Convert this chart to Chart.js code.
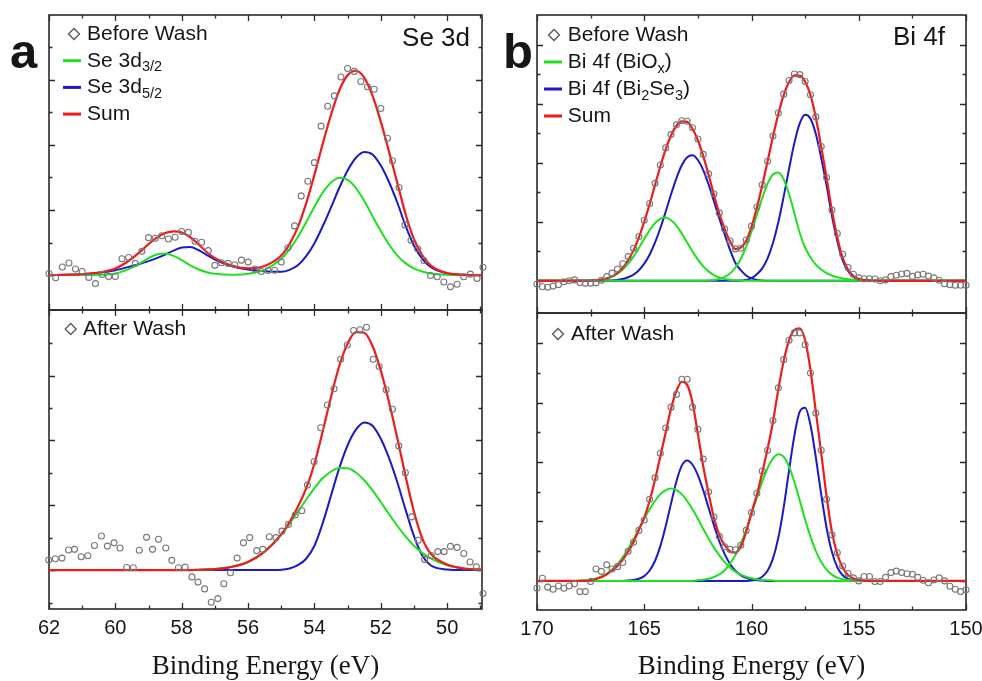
<!DOCTYPE html>
<html>
<head>
<meta charset="utf-8">
<script src="https://cdn.jsdelivr.net/npm/chart.js@4.4.1/dist/chart.umd.min.js"></script>
<style>
  body { margin: 0; background: #fff; width: 982px; height: 681px; position: relative; overflow: hidden; }
  canvas { position: absolute; }
</style>
</head>
<body>
<canvas id="seBefore" width="494" height="320" style="left:0;top:0"></canvas>
<canvas id="seAfter" width="494" height="381" style="left:0;top:300px"></canvas>
<canvas id="biBefore" width="490" height="323" style="left:490px;top:0"></canvas>
<canvas id="biAfter" width="502" height="378" style="left:490px;top:303px"></canvas>
<script>
// ---- Se 3d (panel a) ----
var aTopE = [62.2, 62.0, 61.8, 61.6, 61.4, 61.2, 61.0, 60.8, 60.6, 60.4, 60.2, 60.0, 59.8, 59.6, 59.4, 59.2, 59.0, 58.8, 58.6, 58.4,
  58.2, 58.0, 57.8, 57.6, 57.4, 57.2, 57.0, 56.8, 56.6, 56.4, 56.2, 56.0, 55.8, 55.6, 55.4, 55.2, 55.0,
  54.8, 54.6, 54.4, 54.2, 54.0, 53.8, 53.6, 53.4, 53.2, 53.0, 52.8, 52.6, 52.4, 52.2, 52.0,
  51.8, 51.65, 51.45, 51.27, 51.09, 50.89, 50.7, 50.5, 50.3, 50.1, 49.9, 49.7, 49.5, 49.3, 49.1, 48.92];
var aTopCounts = [0.08, 0.05, -0.08, 0.25, 0.37, 0.19, 0.11, -0.07, -0.26, 0.02, -0.04, -0.04, 0.50, 0.54, 0.36, 0.73, 1.15, 1.13, 1.21, 1.11,
  1.16, 1.34, 1.31, 1.04, 1.01, 0.75, 0.30, 0.38, 0.36, 0.32, 0.46, 0.40, 0.19, 0.11, 0.14, 0.15, 0.40,
  0.84, 1.51, 2.43, 2.88, 3.45, 4.57, 5.18, 5.50, 6.08, 6.34, 6.25, 5.94, 5.78, 5.70, 5.11,
  4.20, 3.51, 2.69, 1.54, 1.07, 0.81, 0.45, -0.01, -0.05, -0.21, -0.36, -0.28, -0.05, 0.03, -0.10, 0.24];

var aBotE = [62.19, 62.01, 61.81, 61.61, 61.41, 61.23, 61.03, 60.83, 60.63, 60.42, 60.24, 60.04, 59.86, 59.66, 59.46, 59.28, 59.06, 58.88, 58.70, 58.48,
  58.30, 58.10, 57.90, 57.69, 57.51, 57.31, 57.11, 56.91, 56.73, 56.53, 56.33, 56.14, 55.95, 55.74, 55.56, 55.36, 55.16, 54.98, 54.78, 54.58,
  54.38, 54.21, 54.01, 53.81, 53.61, 53.41, 53.21, 53.01, 52.82, 52.63, 52.43, 52.23, 52.05, 51.84, 51.65, 51.46, 51.26, 51.07, 50.87, 50.68,
  50.48, 50.28, 50.09, 49.90, 49.70, 49.50, 49.31, 49.12, 48.92];
var aBotCounts = [-0.06, 0.31, 0.35, 0.37, 0.62, 0.64, 0.41, 0.44, 0.76, 1.05, 0.74, 0.84, 0.68, 0.08, 0.07, 0.61, 1.01, 0.64, 0.95, 0.68,
  0.30, 0.07, 0.09, -0.21, -0.37, -0.58, -0.99, -0.88, -0.42, -0.08, 0.37, 0.84, 1.00, 0.60, 0.64, 1.03, 1.00, 1.20, 1.41, 1.70,
  1.83, 2.62, 3.34, 4.39, 5.09, 5.59, 6.50, 6.94, 7.39, 7.41, 7.49, 6.50, 6.28, 5.56, 4.96, 3.83, 3.00, 1.64, 0.92, 0.33,
  0.45, 0.57, 0.57, 0.73, 0.70, 0.51, 0.25, 0.10, -0.72];

var aFitE = [62, 61.5, 61, 60.5, 60, 59.5, 59.25, 59, 58.75, 58.5, 58.25, 58, 57.75, 57.5, 57.25, 57, 56.5, 56, 55.5, 55,
  54.75, 54.5, 54.25, 54, 53.75, 53.5, 53.25, 53, 52.75, 52.5, 52.25, 52, 51.75, 51.5, 51.25, 51, 50.75, 50.5, 50, 49.5, 48.9];
var aTopGreen = [0, 0, 0, 0.01, 0.05, 0.23, 0.37, 0.52, 0.63, 0.66, 0.59, 0.46, 0.31, 0.18, 0.09, 0.04, 0.01, 0.04, 0.16, 0.50,
  0.79, 1.17, 1.62, 2.10, 2.53, 2.84, 2.99, 2.92, 2.67, 2.28, 1.81, 1.35, 0.93, 0.60, 0.36, 0.20, 0.11, 0.05, 0.01, 0, 0];
var aTopBlue = [0, 0.01, 0.03, 0.07, 0.15, 0.28, 0.35, 0.43, 0.52, 0.63, 0.75, 0.85, 0.86, 0.77, 0.62, 0.48, 0.28, 0.17, 0.12, 0.10,
  0.16, 0.30, 0.58, 0.98, 1.50, 2.08, 2.68, 3.21, 3.60, 3.78, 3.70, 3.36, 2.85, 2.22, 1.50, 0.90, 0.50, 0.25, 0.05, 0.01, 0];
var aTopSum = [0, 0.01, 0.03, 0.08, 0.20, 0.51, 0.72, 0.95, 1.15, 1.29, 1.34, 1.31, 1.17, 0.95, 0.71, 0.52, 0.29, 0.21, 0.28, 0.60,
  0.95, 1.47, 2.20, 3.08, 4.03, 4.92, 5.67, 6.13, 6.27, 6.06, 5.51, 4.71, 3.78, 2.82, 1.86, 1.10, 0.61, 0.30, 0.06, 0.01, 0];
var aBotGreen = [0, 0, 0, 0, 0, 0, 0, 0, 0, 0, 0, 0, 0, 0.01, 0.02, 0.03, 0.10, 0.25, 0.57, 1.09,
  1.43, 1.80, 2.17, 2.53, 2.83, 3.04, 3.15, 3.14, 3.01, 2.77, 2.46, 2.10, 1.72, 1.36, 1.03, 0.75, 0.53, 0.36, 0.15, 0.05, 0.01];
var aBotBlue = [0, 0, 0, 0, 0, 0, 0, 0, 0, 0, 0, 0, 0, 0, 0, 0, 0, 0, 0, 0.01,
  0.05, 0.15, 0.35, 0.75, 1.45, 2.30, 3.15, 3.85, 4.33, 4.55, 4.45, 4.05, 3.45, 2.70, 1.85, 1.05, 0.45, 0.15, 0.02, 0, 0];
var aBotSum = [0, 0, 0, 0, 0, 0, 0, 0, 0, 0, 0, 0, 0, 0.01, 0.02, 0.03, 0.10, 0.25, 0.57, 1.10,
  1.48, 1.95, 2.52, 3.28, 4.28, 5.34, 6.30, 6.99, 7.34, 7.32, 6.91, 6.15, 5.17, 4.06, 2.88, 1.80, 0.98, 0.51, 0.17, 0.05, 0.01];

// ---- Bi 4f (panel b) ----
var bE = [170, 169.75, 169.5, 169.25, 169, 168.75, 168.5, 168.25, 168, 167.75,
  167.5, 167.25, 167, 166.75, 166.5, 166.25, 166, 165.75, 165.5, 165.25,
  165, 164.75, 164.5, 164.25, 164, 163.75, 163.5, 163.25, 163, 162.75,
  162.5, 162.25, 162, 161.75, 161.5, 161.25, 161, 160.75, 160.5, 160.25,
  160, 159.75, 159.5, 159.25, 159, 158.75, 158.5, 158.25, 158, 157.75,
  157.5, 157.25, 157, 156.75, 156.5, 156.25, 156, 155.75, 155.5, 155.25,
  155, 154.75, 154.5, 154.25, 154, 153.75, 153.5, 153.25, 153, 152.75,
  152.5, 152.25, 152, 151.75, 151.5, 151.25, 151, 150.75, 150.5, 150.25,
  150];
var bTopCounts = [-0.11, -0.20, -0.22, -0.18, -0.13, -0.03, 0.00, 0.03, -0.06, -0.08,
  -0.08, -0.07, 0.02, 0.14, 0.26, 0.40, 0.58, 0.82, 1.10, 1.50,
  2.05, 2.62, 3.30, 3.92, 4.50, 4.95, 5.28, 5.42, 5.40, 5.18,
  4.80, 4.28, 3.62, 2.95, 2.30, 1.75, 1.35, 1.08, 1.10, 1.38,
  1.85, 2.50, 3.25, 4.05, 4.90, 5.68, 6.32, 6.78, 7.00, 6.98,
  6.75, 6.30, 5.55, 4.55, 3.50, 2.40, 1.60, 0.90, 0.45, 0.22,
  0.10, 0.07, 0.07, 0.06, 0.00, 0.03, 0.14, 0.19, 0.23, 0.25,
  0.15, 0.20, 0.22, 0.16, 0.10, 0.02, -0.10, -0.13, -0.15, -0.15,
  -0.15];
var bTopOxide1 = [0, 0, 0, 0, 0, 0, 0, 0, 0, 0,
  0.01, 0.02, 0.04, 0.08, 0.14, 0.24, 0.38, 0.58, 0.82, 1.11,
  1.42, 1.71, 1.95, 2.10, 2.14, 2.05, 1.87, 1.60, 1.30, 0.99,
  0.72, 0.49, 0.32, 0.19, 0.11, 0.06, 0.03, 0.02, 0.01, 0,
  0, 0, 0, 0, 0, 0, 0, 0, 0, 0,
  0, 0, 0, 0, 0, 0, 0, 0, 0, 0,
  0, 0, 0, 0, 0, 0, 0, 0, 0, 0,
  0, 0, 0, 0, 0, 0, 0, 0, 0, 0,
  0];
var bTopSelenide1 = [0, 0, 0, 0, 0, 0, 0, 0, 0, 0,
  0, 0, 0, 0, 0.01, 0.03, 0.06, 0.12, 0.21, 0.36,
  0.58, 0.88, 1.29, 1.78, 2.34, 2.93, 3.47, 3.91, 4.18, 4.25,
  4.09, 3.75, 3.26, 2.69, 2.11, 1.57, 1.05, 0.60, 0.36, 0.18,
  0.08, 0.03, 0.01, 0, 0, 0, 0, 0, 0, 0,
  0, 0, 0, 0, 0, 0, 0, 0, 0, 0,
  0, 0, 0, 0, 0, 0, 0, 0, 0, 0,
  0, 0, 0, 0, 0, 0, 0, 0, 0, 0,
  0];
var bTopOxide2 = [0, 0, 0, 0, 0, 0, 0, 0, 0, 0,
  0, 0, 0, 0, 0, 0, 0, 0, 0, 0,
  0, 0, 0, 0, 0, 0, 0, 0, 0, 0,
  0, 0, 0.01, 0.03, 0.06, 0.13, 0.25, 0.45, 0.74, 1.15,
  1.66, 2.23, 2.80, 3.29, 3.60, 3.67, 3.44, 2.94, 2.29, 1.62,
  1.12, 0.80, 0.55, 0.38, 0.26, 0.18, 0.12, 0.08, 0.05, 0.03,
  0.02, 0.01, 0, 0, 0, 0, 0, 0, 0, 0,
  0, 0, 0, 0, 0, 0, 0, 0, 0, 0,
  0];
var bTopSelenide2 = [0, 0, 0, 0, 0, 0, 0, 0, 0, 0,
  0, 0, 0, 0, 0, 0, 0, 0, 0, 0,
  0, 0, 0, 0, 0, 0, 0, 0, 0, 0,
  0, 0, 0, 0, 0, 0, 0, 0, 0.01, 0.03,
  0.09, 0.22, 0.42, 0.76, 1.28, 1.98, 2.85, 3.79, 4.67, 5.33,
  5.62, 5.49, 4.97, 4.16, 3.23, 2.20, 1.35, 0.70, 0.33, 0.13,
  0.05, 0.02, 0.01, 0, 0, 0, 0, 0, 0, 0,
  0, 0, 0, 0, 0, 0, 0, 0, 0, 0,
  0];
var bTopSum = [0, 0, 0, 0, 0, 0, 0, 0, 0, 0,
  0.01, 0.02, 0.04, 0.08, 0.15, 0.27, 0.44, 0.70, 1.03, 1.47,
  2.00, 2.59, 3.24, 3.88, 4.45, 4.92, 5.25, 5.40, 5.38, 5.15,
  4.76, 4.22, 3.59, 2.91, 2.28, 1.76, 1.33, 1.07, 1.12, 1.36,
  1.83, 2.48, 3.23, 4.05, 4.88, 5.65, 6.29, 6.73, 6.96, 6.95,
  6.74, 6.29, 5.52, 4.54, 3.49, 2.38, 1.47, 0.78, 0.38, 0.16,
  0.07, 0.03, 0.01, 0, 0, 0, 0, 0, 0, 0,
  0, 0, 0, 0, 0, 0, 0, 0, 0, 0,
  0];

var bBotCounts = [-0.25, 0.09, -0.21, -0.28, -0.17, -0.25, -0.17, -0.10, -0.36, -0.36,
  -0.02, 0.40, 0.32, 0.54, 0.40, 0.48, 0.62, 1.00, 1.30, 1.70,
  2.05, 2.75, 3.47, 4.30, 5.15, 5.85, 6.28, 6.79, 6.79, 5.85,
  5.10, 4.10, 3.00, 2.15, 1.50, 1.15, 1.06, 1.05, 1.20, 1.70,
  2.30, 2.95, 3.70, 4.40, 5.40, 6.50, 7.45, 8.10, 8.35, 8.35,
  7.95, 7.00, 5.65, 4.40, 2.75, 1.55, 0.95, 0.50, 0.25, 0.10,
  0.00, 0.15, 0.15, -0.02, -0.02, 0.12, 0.28, 0.33, 0.28, 0.24,
  0.22, 0.12, 0.02, -0.06, 0.03, 0.10, 0.00, -0.18, -0.28, -0.36,
  -0.30];
var bBotOxide1 = [0, 0, 0, 0, 0, 0, 0, 0, 0.01, 0.02,
  0.04, 0.08, 0.15, 0.24, 0.38, 0.56, 0.80, 1.08, 1.40, 1.75,
  2.09, 2.41, 2.69, 2.92, 3.06, 3.11, 3.06, 2.92, 2.69, 2.41,
  2.09, 1.75, 1.42, 1.12, 0.86, 0.63, 0.45, 0.31, 0.21, 0.14,
  0.09, 0.05, 0.03, 0.02, 0.01, 0, 0, 0, 0, 0,
  0, 0, 0, 0, 0, 0, 0, 0, 0, 0,
  0, 0, 0, 0, 0, 0, 0, 0, 0, 0,
  0, 0, 0, 0, 0, 0, 0, 0, 0, 0,
  0];
var bBotSelenide1 = [0, 0, 0, 0, 0, 0, 0, 0, 0, 0,
  0, 0, 0, 0, 0, 0, 0, 0.01, 0.03, 0.07,
  0.16, 0.35, 0.67, 1.17, 1.84, 2.61, 3.35, 3.88, 4.05, 3.91,
  3.56, 3.05, 2.46, 1.87, 1.33, 0.90, 0.57, 0.34, 0.19, 0.10,
  0.05, 0.02, 0.01, 0, 0, 0, 0, 0, 0, 0,
  0, 0, 0, 0, 0, 0, 0, 0, 0, 0,
  0, 0, 0, 0, 0, 0, 0, 0, 0, 0,
  0, 0, 0, 0, 0, 0, 0, 0, 0, 0,
  0];
var bBotOxide2 = [0, 0, 0, 0, 0, 0, 0, 0, 0, 0,
  0, 0, 0, 0, 0, 0, 0, 0, 0, 0,
  0, 0, 0, 0, 0, 0, 0, 0, 0, 0,
  0.02, 0.04, 0.07, 0.13, 0.22, 0.36, 0.58, 0.87, 1.25, 1.72,
  2.25, 2.81, 3.34, 3.80, 4.12, 4.26, 4.18, 3.85, 3.33, 2.71,
  2.07, 1.49, 1.00, 0.64, 0.38, 0.21, 0.11, 0.06, 0.03, 0.01,
  0, 0, 0, 0, 0, 0, 0, 0, 0, 0,
  0, 0, 0, 0, 0, 0, 0, 0, 0, 0,
  0];
var bBotSelenide2 = [0, 0, 0, 0, 0, 0, 0, 0, 0, 0,
  0, 0, 0, 0, 0, 0, 0, 0, 0, 0,
  0, 0, 0, 0, 0, 0, 0, 0, 0, 0,
  0, 0, 0, 0, 0, 0, 0, 0, 0, 0,
  0.01, 0.05, 0.14, 0.34, 0.75, 1.45, 2.47, 3.71, 4.90, 5.70,
  5.83, 5.25, 4.16, 2.91, 1.79, 0.97, 0.46, 0.19, 0.07, 0.02,
  0.01, 0, 0, 0, 0, 0, 0, 0, 0, 0,
  0, 0, 0, 0, 0, 0, 0, 0, 0, 0,
  0];
var bBotSum = [0, 0, 0, 0, 0, 0, 0, 0, 0, 0,
  0.02, 0.06, 0.12, 0.22, 0.35, 0.50, 0.72, 0.98, 1.30, 1.72,
  2.13, 2.70, 3.40, 4.20, 5.00, 5.80, 6.40, 6.70, 6.60, 6.00,
  4.95, 3.86, 2.95, 2.12, 1.55, 1.20, 0.99, 0.95, 1.15, 1.65,
  2.30, 2.90, 3.65, 4.45, 5.35, 6.45, 7.40, 8.10, 8.45, 8.50,
  8.10, 7.10, 5.70, 4.30, 2.85, 1.65, 0.90, 0.45, 0.20, 0.08,
  0.03, 0.01, 0, 0, 0, 0, 0, 0, 0, 0,
  0, 0, 0, 0, 0, 0, 0, 0, 0, 0,
  0];

// tick positions
var aXTicks = [49, 50, 51, 52, 53, 54, 55, 56, 57, 58, 59, 60, 61, 62];
var bXTicks = [150, 152.5, 155, 157.5, 160, 162.5, 165, 167.5, 170];
var aTopYTicks = [-1, 0, 1, 2, 3, 4, 5, 6, 7];
var aBotYTicks = [-1, 0, 1, 2, 3, 4, 5, 6, 7, 8];
var bYTicks = [-1, 0, 1, 2, 3, 4, 5, 6, 7, 8, 9];

var SANS = '"Liberation Sans", Arial, sans-serif';
var SERIF = '"Liberation Serif", "Times New Roman", serif';
var GREEN = '#1fe01f', BLUE = '#1a1ac8', RED = '#ee1b1b', DOTS = '#787878', INK = '#161616';

function xy(xs, ys) {
  return xs.map(function (x, i) { return { x: x, y: ys[i] }; });
}

function dots(xs, ys) {
  return { data: xy(xs, ys), showLine: false, pointStyle: 'circle', pointRadius: 3,
    borderColor: DOTS, backgroundColor: 'rgba(0,0,0,0)', borderWidth: 1.1, clip: false, order: 0 };
}

function curve(xs, ys, color, order) {
  return { data: xy(xs, ys), showLine: true, borderColor: color, borderWidth: color === RED ? 2.2 : 2,
    pointRadius: 0, cubicInterpolationMode: 'monotone', fill: false, order: order };
}

// box + inward ticks on all four sides
var frame = {
  id: 'frame',
  beforeDatasetsDraw: function (chart, args, o) {
    var ctx = chart.ctx, a = chart.chartArea, x = chart.scales.x, y = chart.scales.y;
    ctx.save();
    ctx.strokeStyle = '#2a2a2a';
    ctx.lineWidth = 1.6;
    ctx.strokeRect(a.left, a.top, a.right - a.left, a.bottom - a.top);
    ctx.lineWidth = 1.3;
    ctx.beginPath();
    o.xTicks.forEach(function (v) {
      var px = Math.round(x.getPixelForValue(v)) + 0.5;
      var len = Math.abs(v % o.xMajor) < 1e-6 ? 6 : 3.5;
      ctx.moveTo(px, a.bottom); ctx.lineTo(px, a.bottom - len);
      ctx.moveTo(px, a.top); ctx.lineTo(px, a.top + len);
    });
    o.yTicks.forEach(function (v) {
      var py = Math.round(y.getPixelForValue(v)) + 0.5;
      if (py < a.top + 3 || py > a.bottom - 3) return;
      var len = v % 2 === 0 ? 6 : 3.5;
      ctx.moveTo(a.left, py); ctx.lineTo(a.left + len, py);
      ctx.moveTo(a.right, py); ctx.lineTo(a.right - len, py);
    });
    ctx.stroke();
    ctx.restore();
  }
};

// panel letter, element name and the legend
var notes = {
  id: 'notes',
  afterDraw: function (chart, args, o) {
    var ctx = chart.ctx, a = chart.chartArea;
    ctx.save();
    ctx.fillStyle = INK;
    ctx.textBaseline = 'alphabetic';
    ctx.textAlign = 'left';
    if (o.letter) {
      ctx.font = 'bold 49px ' + SANS;
      ctx.fillText(o.letter.t, a.left + o.letter.dx, a.top + o.letter.dy);
    }
    if (o.name) {
      ctx.font = '26px ' + SANS;
      ctx.textAlign = 'right';
      ctx.fillText(o.name.t, a.right + o.name.dx, a.top + o.name.dy);
      ctx.textAlign = 'left';
    }
    var L = o.legend;
    L.rows.forEach(function (row, i) {
      var base = a.top + L.y0 + i * L.gap;
      var mid = base - 6;
      if (row.dot) {
        var cx = a.left + L.mx, r = 5.5;
        ctx.strokeStyle = '#555';
        ctx.lineWidth = 1.3;
        ctx.beginPath();
        ctx.moveTo(cx, mid - r); ctx.lineTo(cx + r, mid); ctx.lineTo(cx, mid + r); ctx.lineTo(cx - r, mid);
        ctx.closePath();
        ctx.stroke();
      } else {
        ctx.strokeStyle = row.color;
        ctx.lineWidth = 3;
        ctx.beginPath();
        ctx.moveTo(a.left + L.lx1, mid); ctx.lineTo(a.left + L.lx2, mid);
        ctx.stroke();
      }
      var tx = a.left + L.tx;
      row.parts.forEach(function (p) {
        ctx.font = (p.sub ? '14.5px ' : '21px ') + SANS;
        ctx.fillText(p.t, tx, base + (p.sub ? 4.5 : 0));
        tx += ctx.measureText(p.t).width;
      });
    });
    ctx.restore();
  }
};

function panel(id, c) {
  var xScale = {
    type: 'linear', reverse: true, min: c.xMin, max: c.xMax, display: c.axis,
    grid: { display: false, drawTicks: false },
    border: { display: false },
    ticks: { stepSize: c.step, includeBounds: false, autoSkip: false, maxRotation: 0, padding: 9,
      color: INK, font: { family: SANS, size: 20, lineHeight: 1 } },
    title: { display: c.axis, text: 'Binding Energy (eV)', color: INK,
      font: { family: SERIF, size: 27, lineHeight: 1 }, padding: { top: 0, bottom: 1 } }
  };
  if (c.axis) {
    xScale.afterFit = function (s) { s.height = c.axisHeight; };
  }
  return new Chart(document.getElementById(id), {
    type: 'scatter',
    data: { datasets: c.datasets },
    options: {
      responsive: false,
      animation: false,
      devicePixelRatio: 1,
      events: [],
      layout: { padding: c.pad },
      scales: {
        x: xScale,
        y: { type: 'linear', display: false, min: c.yMin, max: c.yMax }
      },
      plugins: {
        legend: { display: false },
        tooltip: { enabled: false },
        frame: { xTicks: c.xTicks, xMajor: c.xMajor, yTicks: c.yTicks },
        notes: c.notes
      }
    },
    plugins: [frame, notes]
  });
}

panel('seBefore', {
  pad: { left: 49, right: 12, top: 15, bottom: 10 },
  axis: false, xMin: 48.95, xMax: 62, step: 2, yMin: -1.07, yMax: 7.98,
  xTicks: aXTicks, xMajor: 2, yTicks: aTopYTicks,
  datasets: [
    dots(aTopE, aTopCounts),
    curve(aFitE, aTopSum, RED, 1),
    curve(aFitE, aTopGreen, GREEN, 2),
    curve(aFitE, aTopBlue, BLUE, 3)
  ],
  notes: {
    letter: { t: 'a', dx: -39, dy: 53 },
    name: { t: 'Se 3d', dx: -12, dy: 31 },
    legend: { mx: 25, tx: 38, lx1: 14, lx2: 32, y0: 25, gap: 26.7, rows: [
      { dot: true, parts: [{ t: 'Before Wash' }] },
      { color: GREEN, parts: [{ t: 'Se 3d' }, { t: '3/2', sub: true }] },
      { color: BLUE, parts: [{ t: 'Se 3d' }, { t: '5/2', sub: true }] },
      { color: RED, parts: [{ t: 'Sum' }] }
    ] }
  }
});

panel('seAfter', {
  pad: { left: 49, right: 12, top: 10, bottom: 0 },
  axis: true, axisHeight: 72, xMin: 48.95, xMax: 62, step: 2, yMin: -1.2, yMax: 8.02,
  xTicks: aXTicks, xMajor: 2, yTicks: aBotYTicks,
  datasets: [
    dots(aBotE, aBotCounts),
    curve(aFitE, aBotSum, RED, 1),
    curve(aFitE, aBotGreen, GREEN, 2),
    curve(aFitE, aBotBlue, BLUE, 3)
  ],
  notes: {
    legend: { mx: 21.7, tx: 34, y0: 25, gap: 0, rows: [
      { dot: true, parts: [{ t: 'After Wash' }] }
    ] }
  }
});

panel('biBefore', {
  pad: { left: 47, right: 14, top: 15, bottom: 10 },
  axis: false, xMin: 150, xMax: 170, step: 5, yMin: -1.09, yMax: 9.0,
  xTicks: bXTicks, xMajor: 5, yTicks: bYTicks,
  datasets: [
    dots(bE, bTopCounts),
    curve(bE, bTopSum, RED, 1),
    curve(bE, bTopOxide1, GREEN, 2),
    curve(bE, bTopOxide2, GREEN, 2),
    curve(bE, bTopSelenide1, BLUE, 3),
    curve(bE, bTopSelenide2, BLUE, 3)
  ],
  notes: {
    letter: { t: 'b', dx: -34, dy: 53 },
    name: { t: 'Bi 4f', dx: -21, dy: 30 },
    legend: { mx: 17, tx: 30.7, lx1: 7, lx2: 25, y0: 26, gap: 27, rows: [
      { dot: true, parts: [{ t: 'Before Wash' }] },
      { color: GREEN, parts: [{ t: 'Bi 4f (BiO' }, { t: 'x', sub: true }, { t: ')' }] },
      { color: BLUE, parts: [{ t: 'Bi 4f (Bi' }, { t: '2', sub: true }, { t: 'Se' }, { t: '3', sub: true }, { t: ')' }] },
      { color: RED, parts: [{ t: 'Sum' }] }
    ] }
  }
});

panel('biAfter', {
  pad: { left: 47, right: 26, top: 10, bottom: 0 },
  axis: true, axisHeight: 71, xMin: 150, xMax: 170, step: 5, yMin: -0.98, yMax: 9.02,
  xTicks: bXTicks, xMajor: 5, yTicks: bYTicks,
  datasets: [
    dots(bE, bBotCounts),
    curve(bE, bBotSum, RED, 1),
    curve(bE, bBotOxide1, GREEN, 2),
    curve(bE, bBotOxide2, GREEN, 2),
    curve(bE, bBotSelenide1, BLUE, 3),
    curve(bE, bBotSelenide2, BLUE, 3)
  ],
  notes: {
    legend: { mx: 21, tx: 34, y0: 27, gap: 0, rows: [
      { dot: true, parts: [{ t: 'After Wash' }] }
    ] }
  }
});
</script>
</body>
</html>
